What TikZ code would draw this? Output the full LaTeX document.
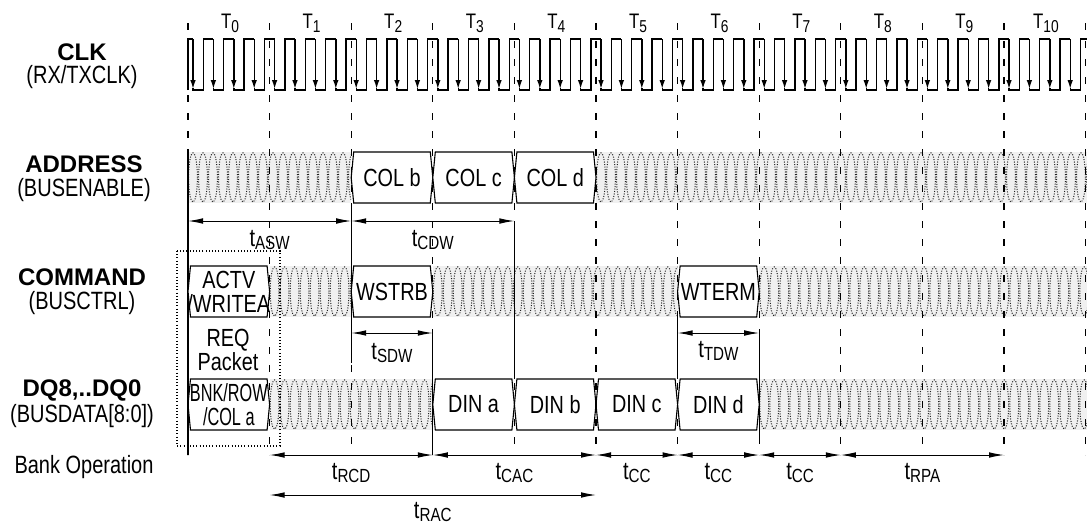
\documentclass[tikz,border=0pt]{standalone}
\usepackage{fontspec}
\setmainfont{Liberation Sans}
\newfontfamily\narrow[FakeStretch=0.8]{Liberation Sans}
\usetikzlibrary{arrows.meta}
\newcommand{\Tn}[1]{T\raisebox{-2pt}{\fontsize{8.6}{9}\selectfont #1}}
\newcommand{\tn}[1]{t\raisebox{-1.4pt}{\fontsize{9.5}{10}\selectfont #1}}
\newcommand{\busbox}[4]{%
	\pgfmathsetmacro{\xa}{188+81.6*#2}\pgfmathsetmacro{\xb}{\xa+81.6}%
	\draw[busedge] (\xa+2.5,#3) -- (\xb-2.5,#3) -- (\xb,#3+25.5) -- (\xb-2.5,#3+51)
		-- (\xa+2.5,#3+51) -- (\xa,#3+25.5) -- cycle;
	\node[boxtext] (#1) at (\xa+40.8,#3+25.5) {#4};}
\begin{document}
\begin{tikzpicture}
	[x=0.5pt,y=-0.5pt,
	 clkline/.style={line width=0.7pt},
	 period/.style={dash pattern=on 3.5pt off 5.5pt,line width=0.55pt},
	 dim/.style={{Latex[length=7.5pt,width=2.8pt]}-{Latex[length=7.5pt,width=2.8pt]},line width=0.5pt},
	 hatch/.style={fill=gray!12,path picture={
		\foreach \k in {0,...,50}
			\draw[gray!25!black,line width=0.5pt,dash pattern=on 0.5pt off 0.75pt]
				([xshift=\k*5pt+2.5pt]path picture bounding box.west) ellipse (2.2pt and 12.3pt);}},
	 busedge/.style={draw,fill=white,line width=0.55pt},
	 sigtitle/.style={font=\bfseries\fontsize{12}{13}\selectfont,inner sep=0pt},
	 sigsub/.style={font=\narrow\fontsize{12.5}{13}\selectfont,inner sep=0pt},
	 boxtext/.style={font=\narrow\fontsize{12.4}{12}\selectfont,align=center,inner sep=0pt},
	 period name/.style={font=\narrow\fontsize{10.5}{11}\selectfont,inner sep=0pt},
	 timing/.style={font=\narrow\fontsize{12.5}{13}\selectfont,inner sep=0pt}]
	\useasboundingbox (0,0) rectangle (1087,526);
	\foreach \i in {0,...,11}
		\coordinate (b\i) at ({188+81.6*\i},0);
	% signal names
	\node[sigtitle] (clk) at (82,52) {CLK};
	\node[sigsub] (clksub) at (82,77) {(RX/TXCLK)};
	\node[sigtitle] (addr) at (84,164) {ADDRESS};
	\node[sigsub] (addrsub) at (84,190) {(BUSENABLE)};
	\node[sigtitle] (cmd) at (82,277) {COMMAND};
	\node[sigsub] (cmdsub) at (82,303) {(BUSCTRL)};
	\node[sigtitle] (dq) at (82,390) {DQ8,..DQ0};
	\node[sigsub] (dqsub) at (82,416) {(BUSDATA[8:0])};
	\node[sigsub] (bank) at (84,467) {Bank Operation};
	% clock periods
	\foreach \i in {0,...,10}
		\node[period name] (T\i) at ({230+81.6*\i},23) {\Tn{\i}};
	\draw[clkline] (188,90) |- (193,39);
	\foreach \k in {0,...,43} {
		\draw[clkline,-{Latex[length=4.5pt,width=2.8pt]}] ({193+20.4*\k},39) -- ({193+20.4*\k},89);
		\draw[clkline] ({193+20.4*\k},88) |- ({203.2+20.4*\k},90) -- ({203.2+20.4*\k},39) -- ({min(213.4+20.4*\k,1087)},39);
	}
	% don't care areas
	\path[hatch] (188,152) rectangle (351.2,203);
	\path[hatch] (596,152) rectangle (1087,203);
	\path[hatch] (269.6,266) rectangle (351.2,317);
	\path[hatch] (432.8,266) rectangle (677.6,317);
	\path[hatch] (759.2,266) rectangle (1087,317);
	\path[hatch] (269.6,379) rectangle (432.8,430);
	\path[hatch] (759.2,379) rectangle (1087,430);
	% reference edges
	\draw[line width=0.55pt] (b0 |- 0,152) -- (b0 |- 0,455);
	\draw[line width=0.55pt] (b2 |- 0,203) -- (b2 |- 0,363);
	\draw[line width=0.55pt] (b3 |- 0,333) -- (b3 |- 0,455);
	\draw[line width=0.55pt] (b4 |- 0,221) -- (b4 |- 0,379);
	\draw[line width=0.55pt] (b6 |- 0,317) -- (b6 |- 0,379);
	\draw[line width=0.55pt] (b7 |- 0,333) -- (b7 |- 0,440);
	% bus values
	\busbox{colb}{2}{152}{COL b}
	\busbox{colc}{3}{152}{COL c}
	\busbox{cold}{4}{152}{COL d}
	\busbox{actv}{0}{266}{ACTV\\/WRITEA}
	\busbox{wstrb}{2}{266}{WSTRB}
	\busbox{wterm}{6}{266}{WTERM}
	\busbox{bnk}{0}{379}{\scalebox{0.82}[1]{BNK/ROW}\\\scalebox{0.82}[1]{/COL a}}
	\busbox{dina}{3}{379}{DIN a}
	\busbox{dinb}{4}{379}{DIN b}
	\busbox{dinc}{5}{379}{DIN c}
	\busbox{dind}{6}{379}{DIN d}
	\draw[line width=0.6pt,dash pattern=on 0.5pt off 1.1pt] (177,251) rectangle (280,446);
	\node[boxtext] (req) at (228,350) {REQ\\Packet};
	% timing parameters
	\draw[dim] (b0 |- 0,221) -- node[timing,yshift=-9.5pt] (tasw) {\tn{ASW}} (b2 |- 0,221);
	\draw[dim] (b2 |- 0,221) -- node[timing,yshift=-9.5pt] (tcdw) {\tn{CDW}} (b4 |- 0,221);
	\draw[dim] (b2 |- 0,333) -- node[timing,yshift=-10pt] (tsdw) {\tn{SDW}} (b3 |- 0,333);
	\draw[dim] (b6 |- 0,333) -- node[timing,yshift=-9pt] (ttdw) {\tn{TDW}} (b7 |- 0,333);
	\draw[dim] (b1 |- 0,455) -- node[timing,yshift=-9pt] (trcd) {\tn{RCD}} (b3 |- 0,455);
	\draw[dim] (b3 |- 0,455) -- node[timing,yshift=-9pt] (tcac) {\tn{CAC}} (b5 |- 0,455);
	\draw[dim] (b5 |- 0,455) -- node[timing,yshift=-9pt] (tcca) {\tn{CC}} (b6 |- 0,455);
	\draw[dim] (b6 |- 0,455) -- node[timing,yshift=-9pt] (tccb) {\tn{CC}} (b7 |- 0,455);
	\draw[dim] (b7 |- 0,455) -- node[timing,yshift=-9pt] (tccc) {\tn{CC}} (b8 |- 0,455);
	\draw[dim] (b8 |- 0,455) -- node[timing,yshift=-9pt] (trpa) {\tn{RPA}} (b10 |- 0,455);
	\draw[dim] (b1 |- 0,495) -- node[timing,yshift=-8.5pt] (trac) {\tn{RAC}} (b5 |- 0,495);
	% period boundaries
	\foreach \i in {0,...,11}
		\draw[period] (b\i |- 0,23) -- (b\i |- 0,455);
\end{tikzpicture}
\end{document}
